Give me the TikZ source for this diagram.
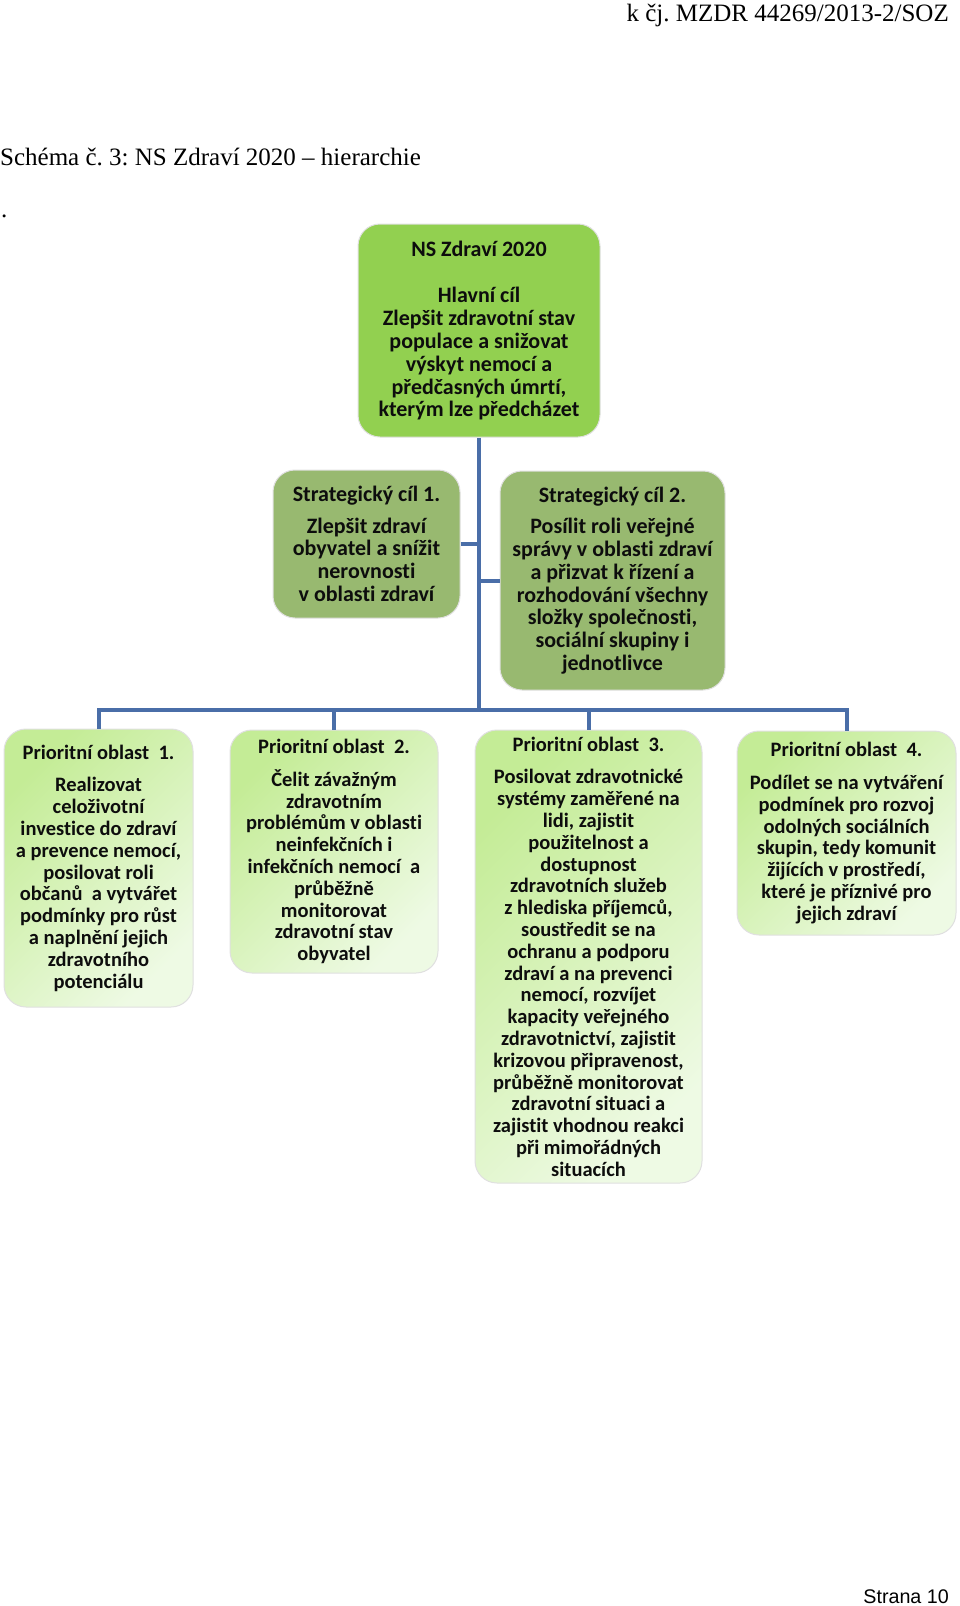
\documentclass[tikz,border=0pt]{standalone}
\usepackage{fontspec}
\setmainfont{Carlito}[Ligatures=NoCommon]
\newfontfamily\docserif{Liberation Serif}
\newfontfamily\docsans{Liberation Sans}
\frenchspacing
\definecolor{goalgreen}{RGB}{146,208,80}
\definecolor{stratolive}{RGB}{152,185,112}
\definecolor{prioA}{RGB}{196,236,150}
\definecolor{prioB}{RGB}{238,250,228}
\definecolor{linkblue}{RGB}{74,110,168}
\tikzset{
  card/.style={draw=black!12,line width=1pt,rounded corners=22pt,align=center,
    inner sep=2pt,text=black!95},
  goalcard/.style={card,fill=goalgreen,font=\bfseries\fontsize{22}{22.8}\selectfont},
  stratcard/.style={card,fill=stratolive,font=\bfseries\fontsize{22}{22.8}\selectfont},
  priocard/.style={card,top color=prioA,bottom color=prioB,shading angle=45,
    font=\bfseries\fontsize{20.5}{21.8}\selectfont},
  size/.style 2 args={minimum width=#1pt,minimum height=#2pt},
  link/.style={draw=linkblue,line width=4pt}
}
\begin{document}
\begin{tikzpicture}[x=1pt,y=-1pt]
\useasboundingbox[fill=white] (0,0) rectangle (960,1606);
% page texts
\node[anchor=base east,inner sep=0,font=\docserif\fontsize{25}{30}\selectfont] (ref) at (949,21) {k čj. MZDR 44269/2013-2/SOZ};
\node[anchor=base west,inner sep=0,font=\docserif\fontsize{25}{30}\selectfont] (caption) at (0,165) {Schéma č. 3: NS Zdraví 2020 – hierarchie};
\node[anchor=base west,inner sep=0,font=\docserif\fontsize{25}{30}\selectfont] (dot) at (1,217) {.};
\node[anchor=base east,inner sep=0,font=\docsans\fontsize{19.7}{24}\selectfont] (page) at (949,1603) {Strana 10};
% boxes
\node[goalcard,size={242}{213}] (goal) at (479,330.5) {NS Zdraví 2020\\[24pt]
  Hlavní cíl\\ Zlepšit zdravotní stav\\ populace a snižovat\\ výskyt nemocí a\\
  předčasných úmrtí,\\ kterým lze předcházet};
\node[stratcard,size={187}{148}] (s1) at (366.5,544) {Strategický cíl 1.\\[8.5pt]
  Zlepšit zdraví\\ obyvatel a snížit\\ nerovnosti\\ v oblasti zdraví};
\node[stratcard,size={225}{219}] (s2) at (612.5,580.5) {Strategický cíl 2.\\[8.5pt]
  Posílit roli veřejné\\ správy v oblasti zdraví\\ a přizvat k řízení a\\
  rozhodování\ všechny\\ složky společnosti,\\ sociální skupiny i\\ jednotlivce};
\node[priocard,size={189}{278}] (p1) at (98.5,868) {Prioritní oblast\ \ 1.\\[11pt]
  Realizovat\\ celoživotní\\ investice do zdraví\\ a prevence nemocí,\\ posilovat roli\\
  občanů\ \ a vytvářet\\ podmínky pro růst\\ a naplnění jejich\\ zdravotního\\ potenciálu};
\node[priocard,size={208}{243}] (p2) at (334,851.5) {Prioritní oblast\ \ 2.\\[11pt]
  Čelit závažným\\ zdravotním\\ problémům v oblasti\\ neinfekčních i\\
  infekčních nemocí\ \ a\\ průběžně\\ monitorovat\\ zdravotní stav\\ obyvatel};
\node[priocard,size={227}{453}] (p3) at (588.5,956.5) {Prioritní oblast\ \ 3.\\[11pt]
  Posilovat zdravotnické\\ systémy zaměřené na\\ lidi, zajistit\\ použitelnost a\\
  dostupnost\\ zdravotních služeb\\ z hlediska příjemců,\\ soustředit se na\\
  ochranu a podporu\\ zdraví a na prevenci\\ nemocí, rozvíjet\\ kapacity veřejného\\
  zdravotnictví, zajistit\\ krizovou připravenost,\\ průběžně monitorovat\\
  zdravotní situaci a\\ zajistit vhodnou reakci\\ při mimořádných\\ situacích};
\node[priocard,size={219}{204}] (p4) at (846.5,833) {Prioritní oblast\ \ 4.\\[11pt]
  Podílet se na vytváření\\ podmínek pro rozvoj\\ odolných sociálních\\
  skupin, tedy komunit\\ žijících v prostředí,\\ které je příznivé pro\\ jejich zdraví};
% connectors
\coordinate (bar) at (479,710);
\draw[link] (goal.south) -- (bar);
\draw[link] (s1.east) -- (s1.east -| bar);
\draw[link] (s2.west) -- (s2.west -| bar);
\foreach \p in {p1,p2,p3,p4}
  \draw[link] (bar) -| (\p.north);
\end{tikzpicture}
\end{document}
